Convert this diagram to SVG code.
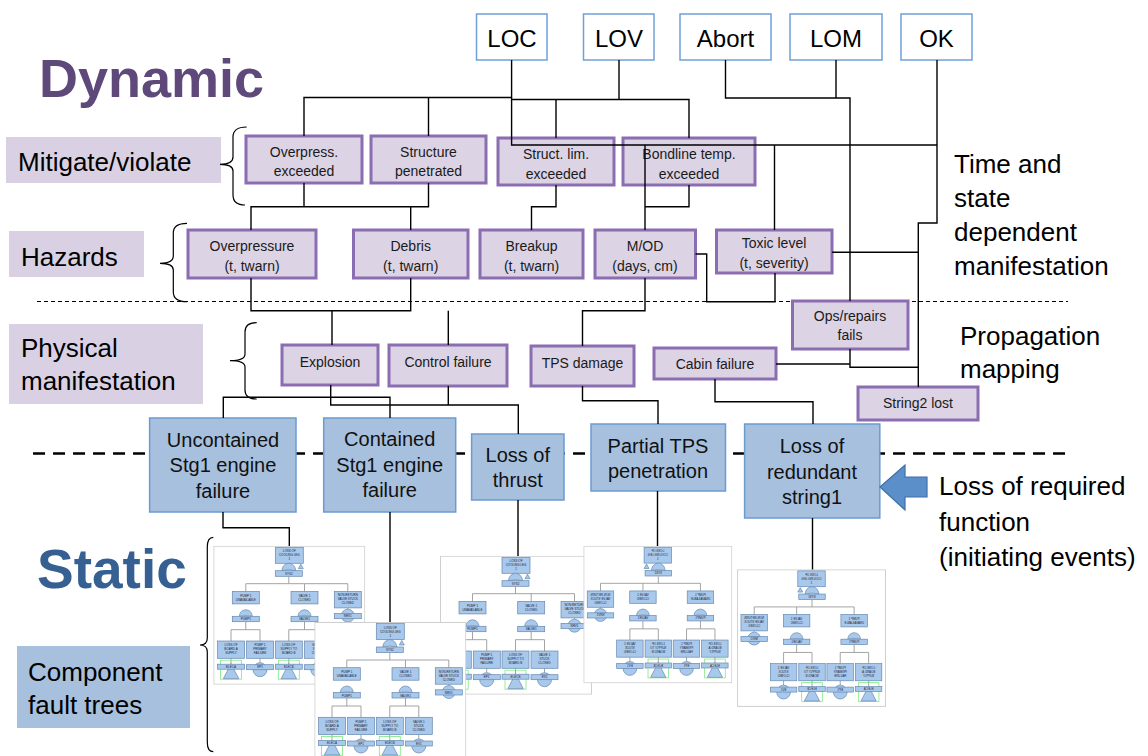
<svg xmlns="http://www.w3.org/2000/svg" width="1148" height="756" viewBox="0 0 1148 756">
<style>
text{font-family:"Liberation Sans",Arial,sans-serif;fill:#000}
.pn rect{fill:#dcd3e5;stroke:#8b6db1;stroke-width:3}
.pn text{font-size:14px;text-anchor:middle;fill:#1a1a1a}
.bn rect{fill:#a7c0de;stroke:#6b9bd1;stroke-width:1.5}
.bn text{font-size:20px;text-anchor:middle;fill:#111}
.tn rect{fill:#fff;stroke:#6fa0d8;stroke-width:1.5}
.tn text{font-size:24px;text-anchor:middle}
.side{font-size:26px}
.conn path{fill:none;stroke:#000;stroke-width:1.4}
.brace{fill:none;stroke:#000;stroke-width:1.2}
.fb{fill:#a8c8ec;stroke:#6688b0;stroke-width:0.7}
.ft{font-size:3px;text-anchor:middle;fill:#223}
.gl{fill:none;stroke:#7de87d;stroke-width:0.8}
</style>
<defs>
<symbol id="ft" viewBox="0 0 152 139">
<rect x="0.5" y="0.5" width="151" height="138" fill="#fff" stroke="#cfcfcf"/>
<path d="M75.5 31 V38 M32.5 45.7 V38 H134.5 V45.7 M91.2 38 V45.7 M32.5 76 V84 M17.7 95.3 V84 H46.7 V95.3 M91.2 76 V84 M75.5 95.3 V84 H104.5 V95.3 M17.7 112.6 V118.5 M46.7 112.6 V117 M75.5 112.6 V118.5 M104.5 112.6 V117 M134.5 62.2 V63.5" stroke="#999" fill="none" stroke-width="0.9"/>
<rect class="fb" x="62" y="1.6" width="28" height="16"/>
<path class="fb" d="M68.5 25 C69 20 72 18 75.5 17.5 C79 18 82 20 82.5 25 Q75.5 23 68.5 25 Z"/>
<path class="fb" d="M85 23 L87.5 18.5 L90 23 Z"/>
<rect class="fb" x="62" y="25" width="27" height="5.6"/>
<rect class="fb" x="19" y="45.7" width="27" height="12.5"/>
<rect class="fb" x="77.7" y="45.7" width="27" height="12.5"/>
<rect class="fb" x="121" y="45.7" width="27" height="16.5"/>
<path class="fb" d="M26 70.6 C26.5 66 29 64.5 32.5 64 C36 64.5 38.5 66 39 70.6 Q32.5 69 26 70.6 Z"/>
<rect class="fb" x="19" y="70.6" width="27" height="5.4"/>
<path class="fb" d="M84.7 70.6 C85.2 66 87.7 64.5 91.2 64 C94.7 64.5 97.2 66 97.7 70.6 Q91.2 69 84.7 70.6 Z"/>
<rect class="fb" x="77.7" y="70.6" width="27" height="5.4"/>
<circle class="fb" cx="134.5" cy="70" r="6.5"/>
<rect class="fb" x="121" y="67.8" width="27" height="5.2"/>
<rect class="fb" x="4.3" y="95.3" width="27" height="17.3"/>
<rect class="fb" x="33.3" y="95.3" width="27" height="17.3"/>
<rect class="fb" x="62" y="95.3" width="27" height="17.3"/>
<rect class="fb" x="91" y="95.3" width="27" height="17.3"/>
<rect class="gl" x="7.2" y="114.5" width="21" height="19"/>
<rect class="gl" x="65" y="114.5" width="21" height="19"/>
<path class="fb" d="M17.7 118 L10 133 L25.5 133 Z"/>
<path class="fb" d="M75.5 118 L67.8 133 L83.3 133 Z"/>
<circle class="fb" cx="46.7" cy="124" r="7"/>
<circle class="fb" cx="104.5" cy="124" r="7"/>
<rect class="fb" x="4.3" y="118.5" width="27" height="5"/>
<rect class="fb" x="33.3" y="119" width="27" height="5"/>
<rect class="fb" x="62" y="118.5" width="27" height="5"/>
<rect class="fb" x="91" y="119" width="27" height="5"/>
<text class="ft" x="76" y="6.5">LOSS OF</text>
<text class="ft" x="76" y="10.5">COOLING LEG</text>
<text class="ft" x="76" y="14.5">1</text>
<text class="ft" x="75.5" y="29">SYS2</text>
<text class="ft" x="32.5" y="51">PUMP 1</text>
<text class="ft" x="32.5" y="55">UNAVAILABLE</text>
<text class="ft" x="91.2" y="51">VALVE 1</text>
<text class="ft" x="91.2" y="55">CLOSED</text>
<text class="ft" x="134.5" y="50.5">NON-RETURN</text>
<text class="ft" x="134.5" y="54.5">VALVE STUCK</text>
<text class="ft" x="134.5" y="58.5">CLOSED</text>
<text class="ft" x="32.5" y="74.5">PUMP1</text>
<text class="ft" x="91.2" y="74.5">VALVE1</text>
<text class="ft" x="134.5" y="71.5">NRV1</text>
<text class="ft" x="17.7" y="100.5">LOSS OF</text>
<text class="ft" x="17.7" y="104.5">BOARD A</text>
<text class="ft" x="17.7" y="108.5">SUPPLY</text>
<text class="ft" x="46.7" y="100.5">PUMP 1</text>
<text class="ft" x="46.7" y="104.5">PRIMARY</text>
<text class="ft" x="46.7" y="108.5">FAILURE</text>
<text class="ft" x="75.5" y="100.5">LOSS OF</text>
<text class="ft" x="75.5" y="104.5">SUPPLY TO</text>
<text class="ft" x="75.5" y="108.5">BOARD B</text>
<text class="ft" x="104.5" y="100.5">VALVE 1</text>
<text class="ft" x="104.5" y="104.5">STUCK</text>
<text class="ft" x="104.5" y="108.5">CLOSED</text>
<text class="ft" x="17.7" y="122.2">ELECA</text>
<text class="ft" x="46.7" y="122.7">EP1</text>
<text class="ft" x="75.5" y="122.2">ELECB</text>
<text class="ft" x="104.5" y="122.7">EV1</text>
</symbol>
</defs>
<rect width="1148" height="756" fill="#fff"/>

<g id="titles">
<text x="39" y="97" font-size="54" font-weight="bold" style="fill:#5f497a">Dynamic</text>
<text x="37" y="588" font-size="55" font-weight="bold" style="fill:#376092">Static</text>
</g>

<g id="side-labels">
<rect x="6" y="137" width="215" height="46" fill="#d9d1e3"/>
<text class="side" x="18" y="171">Mitigate/violate</text>
<rect x="9" y="231" width="135" height="46" fill="#d9d1e3"/>
<text class="side" x="21" y="266" font-size="25">Hazards</text>
<rect x="9" y="324" width="194" height="80" fill="#d9d1e3"/>
<text class="side" x="21" y="357">Physical</text>
<text class="side" x="21" y="390">manifestation</text>
<rect x="17" y="646" width="173" height="82" fill="#a7c0de"/>
<text class="side" x="28" y="681">Component</text>
<text class="side" x="28" y="714">fault trees</text>
<text class="side" x="954" y="173">Time and</text>
<text class="side" x="954" y="207">state</text>
<text class="side" x="954" y="241">dependent</text>
<text class="side" x="954" y="275">manifestation</text>
<text class="side" x="960" y="345">Propagation</text>
<text class="side" x="960" y="378">mapping</text>
<text class="side" x="939" y="495">Loss of required</text>
<text class="side" x="939" y="531">function</text>
<text class="side" x="939" y="566">(initiating events)</text>
</g>

<g id="braces" class="brace">
<path class="brace" d="M246.7 127 Q233 127 233 137 V157 Q233 164.3 220 164.3 Q233 164.3 233 171 V195 Q233 205 245 205"/>
<path class="brace" d="M187 223.3 Q173.3 223.3 173.3 233 V256 Q173.3 263.3 160 263.3 Q173.3 263.3 173.3 270 V292 Q173.3 301.7 187 301.7"/>
<path class="brace" d="M256.7 322.7 Q245 322.7 245 332 V354 Q245 360.7 230 360.7 Q245 360.7 245 367 V390 Q245 399 256.7 399"/>
<path class="brace" d="M213.3 537.3 Q207.3 537.3 207.3 547 V638 Q207.3 645 200 645 Q207.3 645 207.3 652 V742 Q207.3 751.7 213.3 751.7"/>
</g>

<g id="dividers">
<path d="M37 301.5 H1068" stroke="#000" stroke-width="1" stroke-dasharray="4 3" fill="none"/>
<path d="M33 453.5 H1065" stroke="#000" stroke-width="2.6" stroke-dasharray="12 8" fill="none"/>
</g>

<g id="fault-trees">
<use href="#ft" x="213.3" y="545.7" width="152" height="139"/>
<use href="#ft" x="440" y="555.7" width="152" height="139"/>
<use href="#ft" x="314.3" y="622" width="152" height="139"/>
<use href="#ft" width="152" height="139" transform="translate(732.3 545.7) scale(-0.98 0.99)"/>
<use href="#ft" width="152" height="139" transform="translate(886 569.3) scale(-0.98 0.99)"/>
</g>

<g id="n-loc" class="tn"><rect x="476.5" y="14" width="70.5" height="46"/><text x="512" y="47">LOC</text></g>
<g id="n-lov" class="tn"><rect x="583.5" y="14" width="70.5" height="46"/><text x="619" y="47">LOV</text></g>
<g id="n-abort" class="tn"><rect x="680" y="14" width="91" height="46"/><text x="725.5" y="47">Abort</text></g>
<g id="n-lom" class="tn"><rect x="790" y="14" width="92" height="46"/><text x="836" y="47">LOM</text></g>
<g id="n-ok" class="tn"><rect x="901" y="14" width="71" height="46"/><text x="936.5" y="47">OK</text></g>

<g id="n-overpress" class="pn"><rect x="246" y="136" width="116" height="47"/><text x="304" y="157">Overpress.</text><text x="304" y="176">exceeded</text></g>
<g id="n-structpen" class="pn"><rect x="371" y="136" width="115" height="47"/><text x="428.5" y="157">Structure</text><text x="428.5" y="176">penetrated</text></g>
<g id="n-structlim" class="pn"><rect x="498" y="138" width="116" height="47"/><text x="556" y="159">Struct. lim.</text><text x="556" y="179">exceeded</text></g>
<g id="n-bondline" class="pn"><rect x="623" y="138" width="132" height="47"/><text x="689" y="159">Bondline temp.</text><text x="689" y="179">exceeded</text></g>

<g id="n-overpressure" class="pn"><rect x="188" y="230" width="128" height="48"/><text x="252" y="251">Overpressure</text><text x="252" y="271">(t, twarn)</text></g>
<g id="n-debris" class="pn"><rect x="353.5" y="230" width="114.5" height="48"/><text x="410.7" y="251">Debris</text><text x="410.7" y="271">(t, twarn)</text></g>
<g id="n-breakup" class="pn"><rect x="480" y="230" width="103" height="48"/><text x="531.5" y="251">Breakup</text><text x="531.5" y="271">(t, twarn)</text></g>
<g id="n-mod" class="pn"><rect x="595" y="230" width="100.5" height="48"/><text x="645" y="251">M/OD</text><text x="645" y="271">(days, cm)</text></g>
<g id="n-toxic" class="pn"><rect x="716.5" y="230" width="115.5" height="43"/><text x="774" y="248">Toxic level</text><text x="774" y="268">(t, severity)</text></g>
<g id="n-ops" class="pn"><rect x="792.5" y="301" width="115.5" height="48"/><text x="850" y="321">Ops/repairs</text><text x="850" y="340">fails</text></g>

<g id="n-explosion" class="pn"><rect x="282" y="345" width="96" height="40"/><text x="330" y="367">Explosion</text></g>
<g id="n-control" class="pn"><rect x="389" y="345" width="118" height="41"/><text x="448" y="367">Control failure</text></g>
<g id="n-tps" class="pn"><rect x="531" y="346" width="103" height="40"/><text x="582.5" y="368">TPS damage</text></g>
<g id="n-cabin" class="pn"><rect x="654" y="348" width="122" height="31"/><text x="715" y="369">Cabin failure</text></g>
<g id="n-string2" class="pn"><rect x="858" y="387" width="120" height="33"/><text x="918" y="408">String2 lost</text></g>

<g id="n-uncontained" class="bn"><rect x="149.6" y="418" width="146.4" height="94"/><text x="223" y="447">Uncontained</text><text x="223" y="472">Stg1 engine</text><text x="223" y="498">failure</text></g>
<g id="n-contained" class="bn"><rect x="323.7" y="418" width="132" height="94"/><text x="389.7" y="446">Contained</text><text x="389.7" y="472">Stg1 engine</text><text x="389.7" y="497">failure</text></g>
<g id="n-thrust" class="bn"><rect x="471.6" y="434" width="92.4" height="66"/><text x="517.8" y="462">Loss of</text><text x="517.8" y="487">thrust</text></g>
<g id="n-partial" class="bn"><rect x="591" y="424" width="134.5" height="67"/><text x="658" y="453">Partial TPS</text><text x="658" y="478">penetration</text></g>
<g id="n-redundant" class="bn"><rect x="744.6" y="424" width="135.2" height="94"/><text x="812" y="453">Loss of</text><text x="812" y="479">redundant</text><text x="812" y="504">string1</text></g>

<g id="arrow">
<polygon points="880,487 905,465 905,477 927,477 927,497 905,497 905,510" fill="#5a8fca" stroke="#3f6fa8" stroke-width="1.2"/>
</g>

<g id="connectors" class="conn">
<path d="M511.6 60 V145 H937"/>
<path d="M937 60 V223 H918.3 V387"/>
<path d="M304 136 V97.5 H511.6 M428.5 136 V97.5"/>
<path d="M619 60 V99.5 M511.6 99.5 H689 V138 M556 99.5 V138"/>
<path d="M725.5 60 V98 H850 V301 M836 60 V98"/>
<path d="M774.5 145 V230"/>
<path d="M645 145 V230"/>
<path d="M251 230 V206.7 H428.5 V183 M304 183 V206.7 M410.7 206.7 V230"/>
<path d="M556 185 V206.7 H531.5 V230"/>
<path d="M689 185 V206.7 H645"/>
<path d="M251 278 V310.7 H410.7 V278 M332 310.7 V345 M448.3 310.7 V345"/>
<path d="M645 278 V310.7 H582.5 V346"/>
<path d="M695.5 254 H706.7 V301.7 H775 V273"/>
<path d="M832 252.3 H918.3"/>
<path d="M850 349 V367.3 H918.3"/>
<path d="M776 364 H850"/>
<path d="M223.3 418 V397.3 H390 V418"/>
<path d="M330.7 385 V405 H518.3 V434 M448.3 386 V405"/>
<path d="M582.5 386 V400.7 H658 V424"/>
<path d="M715 379 V401.7 H813 V424"/>
<path d="M223 512 V527.7 H289.3 V546"/>
<path d="M390 512 V622"/>
<path d="M518 500 V556"/>
<path d="M657.5 491 V546"/>
<path d="M812.5 518 V569.5"/>
</g>
</svg>
